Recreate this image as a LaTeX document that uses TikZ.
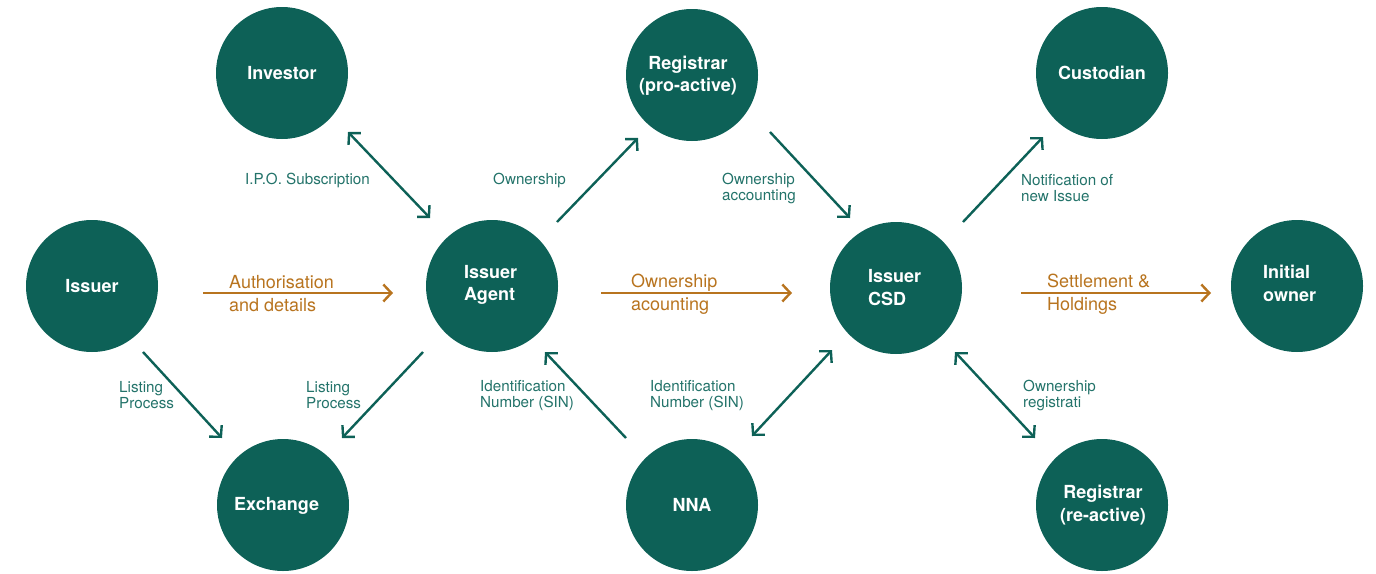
\documentclass[tikz,border=0pt]{standalone}
\usepackage{fontspec}
\setmainfont{TeX Gyre Heros}
\usetikzlibrary{arrows.meta,calc}
\definecolor{dgreen}{HTML}{0D6157}
\definecolor{lgreen}{HTML}{23736A}
\definecolor{orng}{HTML}{B8741F}
\tikzset{
  circ/.style={circle,fill=dgreen,minimum size=132pt,inner sep=0pt,text=white,
    font=\fontsize{18}{22.5}\selectfont\bfseries,align=center},
  ctext/.style={inner sep=0pt,text=white,font=\fontsize{18}{22.5}\selectfont\bfseries},
  glab/.style={anchor=west,inner sep=0pt,text=lgreen,align=left,
    font=\fontsize{15.2}{16}\selectfont},
  olab/.style={anchor=west,inner sep=0pt,text=orng,align=left,
    font=\fontsize{18}{23}\selectfont},
  garrow/.style={draw=dgreen,line width=2.4pt,-{Straight Barb[length=8pt,width=17pt,line width=2.4pt]}},
  gdarrow/.style={draw=dgreen,line width=2.4pt,{Straight Barb[length=8pt,width=17pt,line width=2.4pt]}-{Straight Barb[length=8pt,width=17pt,line width=2.4pt]}},
  oarrow/.style={draw=orng,line width=2.4pt,-{Straight Barb[length=8pt,width=17pt,line width=2.4pt]}}
}
\begin{document}
\begin{tikzpicture}[x=1pt,y=-1pt]
\useasboundingbox (0,0) rectangle (1376,573);
% nodes
\node[circ] (inv) at (282,73) {\raisebox{-1pt}{Investor}};
\node[circ] (reg1) at (692,75) {};
\node[circ] (cust) at (1102,73) {\raisebox{-1pt}{Custodian}};
\node[circ] (iss) at (92,286) {\raisebox{-1pt}{Issuer}};
\node[circ] (agent) at (492,286) {};
\node[circ] (csd) at (896,288) {};
\node[circ] (init) at (1297,286) {};
\node[circ] (exch) at (283,505) {};
\node[circ] (nna) at (692,505) {\raisebox{-1pt}{NNA}};
\node[circ] (reg2) at (1102,505) {};
% texts inside circles
\node[ctext,align=center] (reg1t) at (688,76) {Registrar\\(pro-active)};
\node[ctext,align=left,anchor=west] (agentt) at (464,285) {Issuer\\Agent};
\node[ctext,align=left,anchor=west] (csdt) at (868,287.5) {Issuer\\CSD};
\node[ctext,align=left,anchor=west] (initt) at (1263,283.5) {Initial\\owner};
\node[ctext,anchor=west] (excht) at (234,506) {Exchange};
\node[ctext,align=center] (reg2t) at (1103,505) {Registrar\\(re-active)};
% green connectors
\draw[gdarrow] ($(inv.center)+(66,59)$) -- ($(agent.center)+(-62,-68)$);
\draw[garrow] ($(agent.center)+(65,-64)$) -- ($(reg1.center)+(-54,63)$);
\draw[garrow] ($(reg1.center)+(78,57)$) -- ($(csd.center)+(-46,-70)$);
\draw[garrow] ($(csd.center)+(67,-66)$) -- ($(cust.center)+(-59,64)$);
\draw[garrow] ($(iss.center)+(51,66)$) -- ($(exch.center)+(-61,-67)$);
\draw[garrow] ($(agent.center)+(-69,66)$) -- ($(exch.center)+(59,-67)$);
\draw[garrow] ($(nna.center)+(-66,-67)$) -- ($(agent.center)+(53,66)$);
\draw[gdarrow] ($(nna.center)+(60,-69)$) -- ($(csd.center)+(-64,62)$);
\draw[gdarrow] ($(csd.center)+(59,64)$) -- ($(reg2.center)+(-67,-67)$);
% orange connectors
\draw[oarrow] ($(iss.center)+(111,7)$) -- ($(agent.center)+(-99,7)$);
\draw[oarrow] ($(agent.center)+(109,7)$) -- ($(csd.center)+(-104,5)$);
\draw[oarrow] ($(csd.center)+(125,5)$) -- ($(init.center)+(-86,7)$);
% green labels
\node[glab] (l1) at (245,180.5) {I.P.O. Subscription};
\node[glab] (l2) at (493,180.5) {Ownership};
\node[glab] (l3) at (722,188.5) {Ownership\\accounting};
\node[glab] (l4) at (1021,188.5) {Notification of\\new Issue};
\node[glab] (l5) at (119,395.5) {Listing\\Process};
\node[glab] (l6) at (306,395.5) {Listing\\Process};
\node[glab] (l7) at (480,395.5) {Identification\\Number (SIN)};
\node[glab] (l8) at (650,395.5) {Identification\\Number (SIN)};
\node[glab] (l9) at (1023,395.5) {Ownership\\registrati};
% orange labels
\node[olab] (o1) at (229,294) {Authorisation\\and details};
\node[olab] (o2) at (631,294) {Ownership\\acounting};
\node[olab] (o3) at (1047,294) {Settlement \&\\Holdings};
\end{tikzpicture}
\end{document}
